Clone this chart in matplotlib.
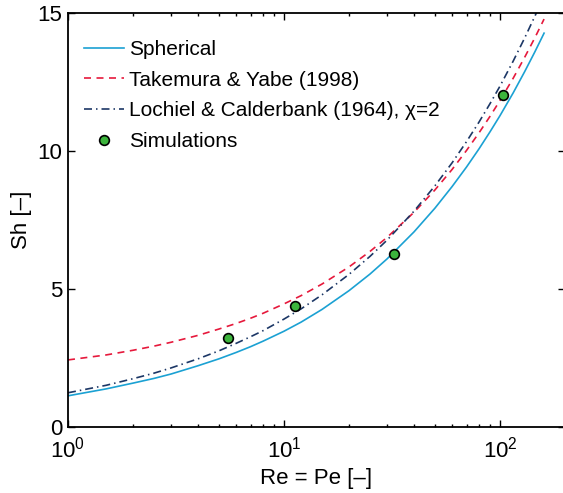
import matplotlib
matplotlib.use("Agg")
from matplotlib import pyplot as plt
from matplotlib.ticker import LogLocator, NullFormatter

re_curve = [1, 1.5, 2, 2.5, 3, 4, 5, 6, 7, 8, 10, 12, 15, 20, 25, 30, 40, 50,
            60, 70, 80, 90, 100, 115, 130, 145, 160]

sh_spherical = [1.13, 1.38, 1.59, 1.76, 1.92, 2.22, 2.47, 2.70, 2.91, 3.11, 3.47,
                3.80, 4.26, 4.94, 5.54, 6.09, 7.07, 7.93, 8.71, 9.42, 10.08, 10.70,
                11.28, 12.10, 12.87, 13.59, 14.27]
sh_takemura = [2.43, 2.61, 2.78, 2.93, 3.07, 3.32, 3.55, 3.75, 3.94, 4.12, 4.46,
               4.76, 5.18, 5.80, 6.36, 6.87, 7.78, 8.59, 9.33, 10.02, 10.66, 11.26,
               11.83, 12.63, 13.39, 14.10, 14.78]
sh_lochiel = [1.24, 1.51, 1.75, 1.95, 2.14, 2.47, 2.76, 3.03, 3.27, 3.49, 3.91,
              4.28, 4.79, 5.53, 6.18, 6.77, 7.82, 8.74, 9.57, 10.34, 11.05, 11.72,
              12.35, 13.25, 14.09, 14.88, 15.63]

# simulation points
re_sim = [5.5, 11.3, 32.4, 103.6]
sh_sim = [3.21, 4.38, 6.26, 12.03]

plt.rcParams['font.family'] = ['Liberation Sans', 'DejaVu Sans']
plt.rcParams['mathtext.fontset'] = 'custom'
plt.rcParams['mathtext.rm'] = 'Liberation Sans'
plt.rcParams['mathtext.it'] = 'Liberation Sans:italic'

fig = plt.figure(figsize=(5.63, 4.93), dpi=100)
W, H = 563, 493
left, right, top, bottom = 68, 565, 13, 427
ax = fig.add_axes([left / W, (H - bottom) / H, (right - left) / W, (bottom - top) / H])

ax.plot(re_curve, sh_spherical, color='#1ba1d3', lw=1.2, label='Spherical')
ax.plot(re_curve, sh_takemura, color='#e6193c', lw=1.2, ls=(0, (4.2, 3.3)),
        label='Takemura & Yabe (1998)')
ax.plot(re_curve, sh_lochiel, color='#1c3766', lw=1.2, ls=(0, (4.8, 2.4, 0.9, 2.4)),
        label='Lochiel & Calderbank (1964), χ=2')
ax.plot(re_sim, sh_sim, 'o', ms=7, mfc='#3cb43c', mec='black', mew=1.2,
        label='Simulations')

ax.set_xscale('log')
ax.set_xlim(1, 200)
ax.set_ylim(0, 15)
ax.set_yticks([0, 5, 10, 15])
ax.xaxis.set_minor_locator(LogLocator(base=10, subs=range(2, 10)))
ax.xaxis.set_minor_formatter(NullFormatter())

for s in ax.spines.values():
    s.set_linewidth(1.3)
ax.tick_params(which='both', direction='in', top=True, right=True, width=1.0)
ax.tick_params(which='major', length=5, labelsize=16)
ax.tick_params(axis='x', which='major', pad=7)
ax.tick_params(axis='y', which='major', pad=4)
ax.tick_params(which='minor', length=2.5)

ax.set_xlabel('Re = Pe [–]', fontsize=16)
ax.set_ylabel('Sh [–]', fontsize=16)
ax.xaxis.set_label_coords(0.5, -0.10)
ax.yaxis.set_label_coords(-0.072, 0.5)

ax.legend(loc='upper left', frameon=False, fontsize=15, handlelength=1.9,
          handletextpad=0.25, labelspacing=0.56, borderaxespad=0.2,
          bbox_to_anchor=(0.008, 0.965))

fig.savefig('out.png', dpi=100)
